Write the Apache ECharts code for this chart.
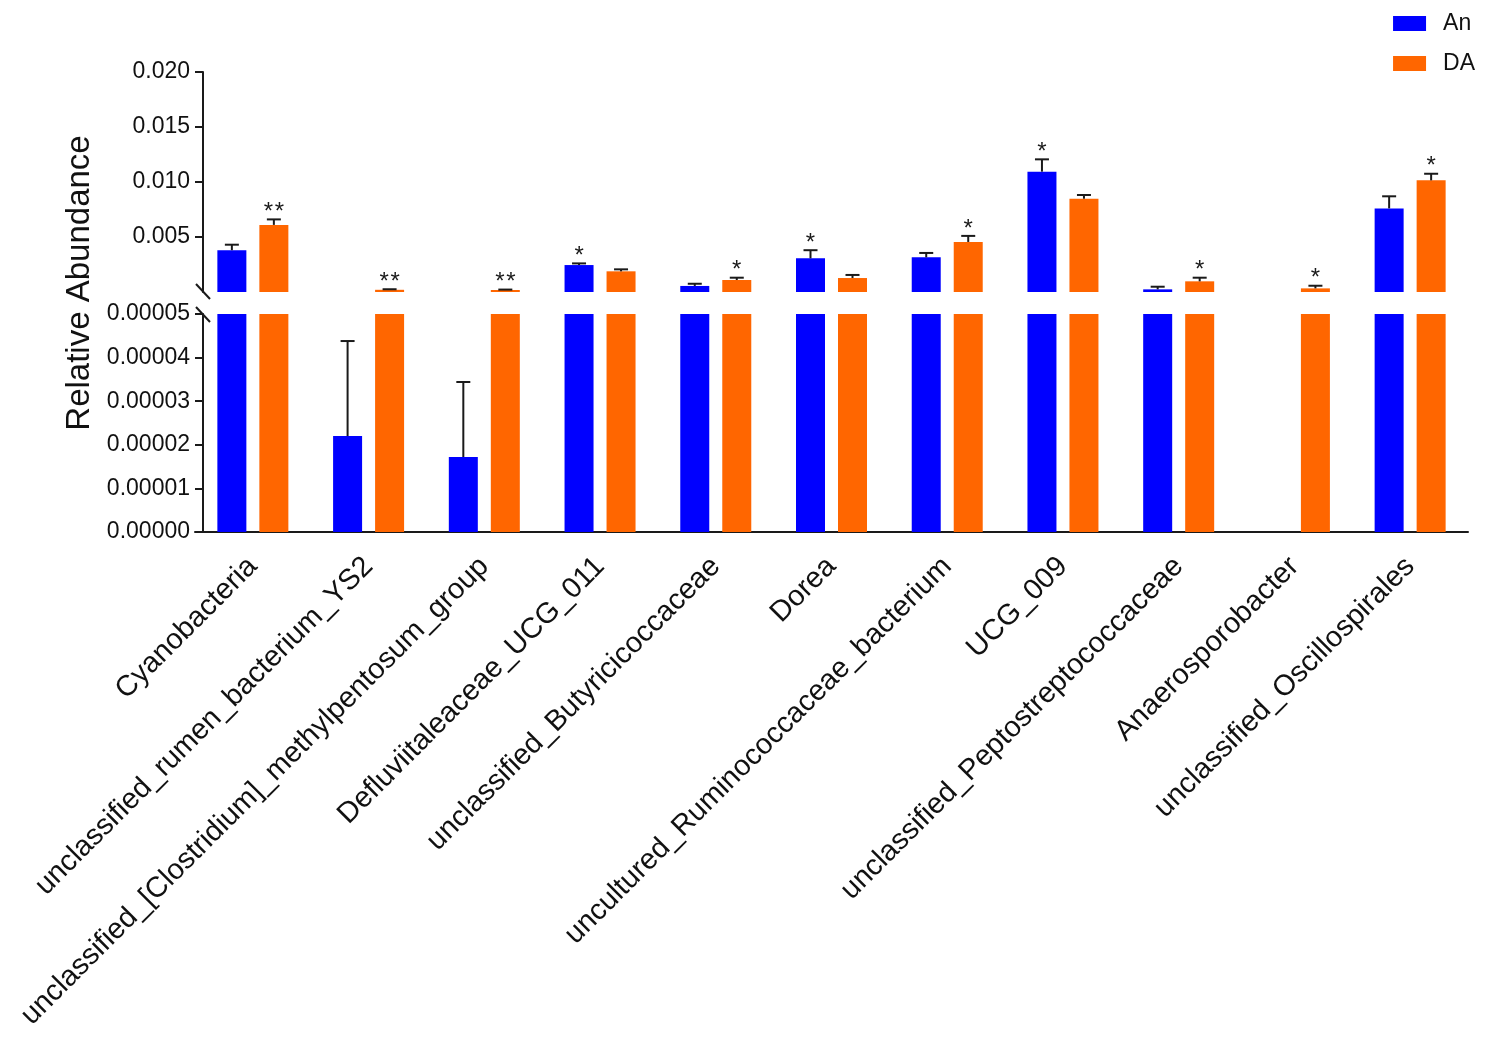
<!DOCTYPE html>
<html>
<head>
<meta charset="utf-8">
<script src="https://cdn.jsdelivr.net/npm/echarts@6/dist/echarts.min.js"></script>
<style>
html,body{margin:0;padding:0;background:#fff;}
#chart{width:1489px;height:1047px;}
</style>
</head>
<body>
<div id="chart"></div>
<script>
const categories = [
  'Cyanobacteria',
  'unclassified_rumen_bacterium_YS2',
  'unclassified_[Clostridium]_methylpentosum_group',
  'Defluviitaleaceae_UCG_011',
  'unclassified_Butyricicoccaceae',
  'Dorea',
  'uncultured_Ruminococcaceae_bacterium',
  'UCG_009',
  'unclassified_Peptostreptococcaceae',
  'Anaerosporobacter',
  'unclassified_Oscillospirales'
];
const anMean = [0.0038, 0.000022, 0.0000172, 0.00245, 0.00055, 0.00306, 0.00315, 0.01094, 0.00024, 0, 0.0076];
const anErr  = [0.0005, 0.0000218, 0.0000172, 0.00015, 0.0002, 0.00074, 0.0004, 0.00112, 0.00024, 0, 0.0011];
const daMean = [0.0061, 0.00020, 0.00018, 0.00188, 0.00109, 0.00127, 0.00455, 0.00848, 0.00097, 0.00033, 0.01015];
const daErr  = [0.0005, 0.00005, 0.00004, 0.00018, 0.00021, 0.00028, 0.00055, 0.00034, 0.00033, 0.00024, 0.0006];
const anSig = ['', '', '', '*', '', '*', '', '*', '', '', ''];
const daSig = ['**', '**', '**', '', '*', '', '*', '', '*', '*', '*'];
const upperTicks = [0.005, 0.010, 0.015, 0.020];
const lowerTicks = [0, 0.00001, 0.00002, 0.00003, 0.00004, 0.00005];
const upperMax = 0.020, lowerMax = 0.00005;

const BLUE = '#0000FF', ORANGE = '#FF6600', INK = '#1a1a1a';
const FONT = '"Liberation Sans", Arial, Helvetica, sans-serif';
const BAR_W = 29, BAR_GAP = 13;
const OFF = (BAR_W + BAR_GAP) / 2;

const chart = echarts.init(document.getElementById('chart'), null, {renderer: 'canvas'});

function errData(which) {
  const out = [];
  [[anMean, anErr, anSig, 0], [daMean, daErr, daSig, 1]].forEach(([m, e, s, side]) => {
    m.forEach((v, i) => {
      if (which === 'upper' && v > lowerMax && e[i] > 0) out.push([i, v, e[i], side, s[i].length]);
      if (which === 'lower' && v <= lowerMax && e[i] > 0 && v + e[i] <= lowerMax) out.push([i, v, e[i], side, s[i].length]);
    });
  });
  return out;
}

function renderErr(params, api) {
  const cat = api.value(0), v = api.value(1), e = api.value(2), side = api.value(3), n = api.value(4);
  const b = api.coord([cat, v]);
  const t = api.coord([cat, v + e]);
  const x = b[0] + (side === 0 ? -OFF : OFF);
  const children = [
    {type: 'line', shape: {x1: x, y1: b[1], x2: x, y2: t[1]}, style: {stroke: INK, lineWidth: 2}},
    {type: 'line', shape: {x1: x - 7, y1: t[1], x2: x + 7, y2: t[1]}, style: {stroke: INK, lineWidth: 2}}
  ];
  for (let k = 0; k < n; k++) {
    const sx = x + (k - (n - 1) / 2) * 11;
    children.push({type: 'text', style: {text: '*', x: sx, y: t[1] + 5, align: 'center', verticalAlign: 'bottom',
      font: '24px ' + FONT, fill: INK}});
  }
  return {type: 'group', children: children};
}

const yLabel = {color: '#111', fontSize: 23, fontFamily: FONT, margin: 13};

const option = {
  backgroundColor: '#fff',
  animation: false,
  textStyle: {fontFamily: FONT},
  legend: {
    data: ['An', 'DA'], orient: 'vertical', right: 14, top: 12, padding: 0,
    itemWidth: 33, itemHeight: 15, itemGap: 17, icon: 'rect',
    textStyle: {fontSize: 23, color: '#111', fontFamily: FONT, padding: [0, 0, 0, 12]}
  },
  grid: [
    {left: 195, right: 21, top: 72, height: 220},
    {left: 195, right: 21, top: 314, height: 218}
  ],
  xAxis: [
    {type: 'category', gridIndex: 0, data: categories, show: false},
    {type: 'category', gridIndex: 1, data: categories,
     axisLine: {lineStyle: {color: INK, width: 2}},
     axisTick: {alignWithLabel: true, length: 9, lineStyle: {color: INK, width: 2}},
     axisLabel: {interval: 0, rotate: 45, fontSize: 29, color: '#111', fontFamily: FONT, margin: 30}}
  ],
  yAxis: [
    {type: 'value', gridIndex: 0, min: 0, max: upperMax, offset: -8,
     axisLine: {show: true, lineStyle: {color: INK, width: 2}},
     axisTick: {show: true, length: 8, customValues: upperTicks, lineStyle: {color: INK, width: 2}},
     axisLabel: Object.assign({customValues: upperTicks, formatter: v => v.toFixed(3)}, yLabel),
     splitLine: {show: false}},
    {type: 'value', gridIndex: 1, min: 0, max: lowerMax, offset: -8,
     axisLine: {show: true, lineStyle: {color: INK, width: 2}},
     axisTick: {show: true, length: 8, customValues: lowerTicks, lineStyle: {color: INK, width: 2}},
     axisLabel: Object.assign({customValues: lowerTicks, formatter: v => v.toFixed(5)}, yLabel),
     splitLine: {show: false}}
  ],
  series: [
    {name: 'An', type: 'bar', xAxisIndex: 0, yAxisIndex: 0, data: anMean.map(v => v > lowerMax ? v : null),
     barWidth: BAR_W, barGap: (BAR_GAP / BAR_W * 100) + '%', itemStyle: {color: BLUE}},
    {name: 'DA', type: 'bar', xAxisIndex: 0, yAxisIndex: 0, data: daMean.map(v => v > lowerMax ? v : null),
     barWidth: BAR_W, barGap: (BAR_GAP / BAR_W * 100) + '%', itemStyle: {color: ORANGE}},
    {name: 'An', type: 'bar', xAxisIndex: 1, yAxisIndex: 1, data: anMean, clip: true,
     barWidth: BAR_W, barGap: (BAR_GAP / BAR_W * 100) + '%', itemStyle: {color: BLUE}},
    {name: 'DA', type: 'bar', xAxisIndex: 1, yAxisIndex: 1, data: daMean, clip: true,
     barWidth: BAR_W, barGap: (BAR_GAP / BAR_W * 100) + '%', itemStyle: {color: ORANGE}},
    {type: 'custom', xAxisIndex: 0, yAxisIndex: 0, data: errData('upper'), renderItem: renderErr, z: 5},
    {type: 'custom', xAxisIndex: 1, yAxisIndex: 1, data: errData('lower'), renderItem: renderErr, z: 5}
  ]
};
chart.setOption(option);

// axis-break marks and y-axis title, positioned from the chart's own scales
const upBottom = chart.convertToPixel({gridIndex: 0}, [0, 0]);
const loTop = chart.convertToPixel({gridIndex: 1}, [0, lowerMax]);
const ax = 203;
chart.setOption({
  graphic: [
    {type: 'line', shape: {x1: ax - 7, y1: upBottom[1] - 8, x2: ax + 7, y2: upBottom[1] + 7}, style: {stroke: INK, lineWidth: 2}},
    {type: 'line', shape: {x1: ax - 7, y1: loTop[1] - 7, x2: ax + 7, y2: loTop[1] + 8}, style: {stroke: INK, lineWidth: 2}},
    {type: 'text', x: 80, y: 283, rotation: Math.PI / 2,
     style: {text: 'Relative Abundance', font: '33px ' + FONT, fill: '#111', align: 'center', verticalAlign: 'middle'}}
  ]
});
</script>
</body>
</html>
